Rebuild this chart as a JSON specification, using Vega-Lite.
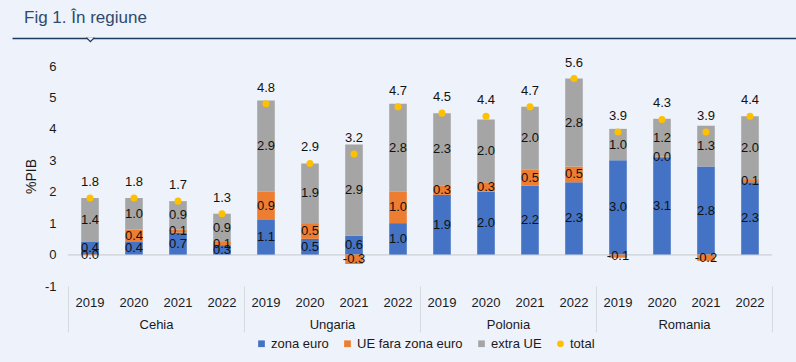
{
  "$schema": "https://vega.github.io/schema/vega-lite/v6.json",
  "width": 704,
  "height": 220,
  "autosize": {"type": "none"},
  "padding": {"left": 68, "top": 66, "right": 24, "bottom": 76},
  "background": "#EEF2FA",
  "config": {
    "font": "Liberation Sans",
    "view": {"stroke": null},
    "axis": {"grid": false},
    "axisY": {"labelOverlap": false}
  },
  "title": {
    "text": "Fig 1. În regiune",
    "anchor": "start",
    "frame": "group",
    "dx": -44,
    "fontSize": 17,
    "fontWeight": "normal",
    "color": "#2F4A6E",
    "offset": 8
  },
  "datasets": {
    "d": [
      {"key": "Cehia|2019", "series": "zona euro", "value": 0.4},
      {"key": "Cehia|2019", "series": "UE fara zona euro", "value": -0.02},
      {"key": "Cehia|2019", "series": "extra UE", "value": 1.4},
      {"key": "Cehia|2019", "series": "total", "value": 1.8},
      {"key": "Cehia|2020", "series": "zona euro", "value": 0.4},
      {"key": "Cehia|2020", "series": "UE fara zona euro", "value": 0.4},
      {"key": "Cehia|2020", "series": "extra UE", "value": 1.0},
      {"key": "Cehia|2020", "series": "total", "value": 1.8},
      {"key": "Cehia|2021", "series": "zona euro", "value": 0.7},
      {"key": "Cehia|2021", "series": "UE fara zona euro", "value": 0.1},
      {"key": "Cehia|2021", "series": "extra UE", "value": 0.9},
      {"key": "Cehia|2021", "series": "total", "value": 1.7},
      {"key": "Cehia|2022", "series": "zona euro", "value": 0.3},
      {"key": "Cehia|2022", "series": "UE fara zona euro", "value": 0.1},
      {"key": "Cehia|2022", "series": "extra UE", "value": 0.9},
      {"key": "Cehia|2022", "series": "total", "value": 1.3},
      {"key": "Ungaria|2019", "series": "zona euro", "value": 1.1},
      {"key": "Ungaria|2019", "series": "UE fara zona euro", "value": 0.9},
      {"key": "Ungaria|2019", "series": "extra UE", "value": 2.9},
      {"key": "Ungaria|2019", "series": "total", "value": 4.8},
      {"key": "Ungaria|2020", "series": "zona euro", "value": 0.5},
      {"key": "Ungaria|2020", "series": "UE fara zona euro", "value": 0.5},
      {"key": "Ungaria|2020", "series": "extra UE", "value": 1.9},
      {"key": "Ungaria|2020", "series": "total", "value": 2.9},
      {"key": "Ungaria|2021", "series": "zona euro", "value": 0.6},
      {"key": "Ungaria|2021", "series": "UE fara zona euro", "value": -0.3},
      {"key": "Ungaria|2021", "series": "extra UE", "value": 2.9},
      {"key": "Ungaria|2021", "series": "total", "value": 3.2},
      {"key": "Ungaria|2022", "series": "zona euro", "value": 1.0},
      {"key": "Ungaria|2022", "series": "UE fara zona euro", "value": 1.0},
      {"key": "Ungaria|2022", "series": "extra UE", "value": 2.8},
      {"key": "Ungaria|2022", "series": "total", "value": 4.7},
      {"key": "Polonia|2019", "series": "zona euro", "value": 1.9},
      {"key": "Polonia|2019", "series": "UE fara zona euro", "value": 0.3},
      {"key": "Polonia|2019", "series": "extra UE", "value": 2.3},
      {"key": "Polonia|2019", "series": "total", "value": 4.5},
      {"key": "Polonia|2020", "series": "zona euro", "value": 2.0},
      {"key": "Polonia|2020", "series": "UE fara zona euro", "value": 0.3},
      {"key": "Polonia|2020", "series": "extra UE", "value": 2.0},
      {"key": "Polonia|2020", "series": "total", "value": 4.4},
      {"key": "Polonia|2021", "series": "zona euro", "value": 2.2},
      {"key": "Polonia|2021", "series": "UE fara zona euro", "value": 0.5},
      {"key": "Polonia|2021", "series": "extra UE", "value": 2.0},
      {"key": "Polonia|2021", "series": "total", "value": 4.7},
      {"key": "Polonia|2022", "series": "zona euro", "value": 2.3},
      {"key": "Polonia|2022", "series": "UE fara zona euro", "value": 0.5},
      {"key": "Polonia|2022", "series": "extra UE", "value": 2.8},
      {"key": "Polonia|2022", "series": "total", "value": 5.6},
      {"key": "Romania|2019", "series": "zona euro", "value": 3.0},
      {"key": "Romania|2019", "series": "UE fara zona euro", "value": -0.1},
      {"key": "Romania|2019", "series": "extra UE", "value": 1.0},
      {"key": "Romania|2019", "series": "total", "value": 3.9},
      {"key": "Romania|2020", "series": "zona euro", "value": 3.1},
      {"key": "Romania|2020", "series": "UE fara zona euro", "value": 0.02},
      {"key": "Romania|2020", "series": "extra UE", "value": 1.2},
      {"key": "Romania|2020", "series": "total", "value": 4.3},
      {"key": "Romania|2021", "series": "zona euro", "value": 2.8},
      {"key": "Romania|2021", "series": "UE fara zona euro", "value": -0.2},
      {"key": "Romania|2021", "series": "extra UE", "value": 1.3},
      {"key": "Romania|2021", "series": "total", "value": 3.9},
      {"key": "Romania|2022", "series": "zona euro", "value": 2.3},
      {"key": "Romania|2022", "series": "UE fara zona euro", "value": 0.1},
      {"key": "Romania|2022", "series": "extra UE", "value": 2.0},
      {"key": "Romania|2022", "series": "total", "value": 4.4}
    ],
    "countries": [
      {"country": "Cehia"},
      {"country": "Ungaria"},
      {"country": "Polonia"},
      {"country": "Romania"}
    ],
    "notch": [{"pos": 0.1}]
  },
  "layer": [
    {
      "data": {"name": "d"},
      "transform": [
        {"calculate": "indexof(['zona euro','UE fara zona euro','extra UE','total'], datum.series)", "as": "ord"},
        {"calculate": "replace(format(datum.value,'.1f'),'−','-')", "as": "lbl"}
      ],
      "encoding": {
        "x": {
          "field": "key",
          "type": "nominal",
          "sort": null,
          "scale": {"paddingInner": 0.6, "paddingOuter": 0.3},
          "axis": {
            "orient": "bottom",
            "title": null,
            "labelExpr": "split(datum.label,'|')[1]",
            "labelAngle": 0,
            "ticks": false,
            "domain": false,
            "labelPadding": 10,
            "labelFontSize": 13,
            "labelColor": "#1a1a1a"
          }
        },
        "y": {
          "field": "value",
          "type": "quantitative",
          "scale": {"domain": [-1, 6], "nice": false},
          "axis": {
            "title": "%PIB",
            "tickCount": 8,
            "values": [-1, 0, 1, 2, 3, 4, 5, 6],
            "format": "d",
            "labelExpr": "replace(datum.label,'−','-')",
            "labelOverlap": false,
            "domain": false,
            "ticks": false,
            "labelPadding": 12,
            "labelFontSize": 13,
            "labelColor": "#1a1a1a",
            "titleFontSize": 14,
            "titleFontWeight": "normal",
            "titleColor": "#1a1a1a",
            "titlePadding": 6
          }
        }
      },
      "layer": [
        {
          "mark": {"type": "rule", "color": "#D6D9DE", "strokeWidth": 1},
          "encoding": {"x": null, "y": {"datum": 0, "type": "quantitative"}}
        },
        {
          "transform": [{"filter": "datum.series !== 'total'"}],
          "mark": {"type": "bar"},
          "encoding": {
            "y": {"field": "value", "type": "quantitative", "stack": "zero"},
            "color": {
              "field": "series",
              "type": "nominal",
              "scale": {
                "domain": ["zona euro", "UE fara zona euro", "extra UE", "total"],
                "range": ["#4472C4", "#ED7D31", "#A5A5A5", "#FFC000"]
              },
              "legend": {
                "orient": "none",
                "legendX": 187,
                "legendY": 271,
                "direction": "horizontal",
                "title": null,
                "labelFontSize": 13,
                "labelColor": "#1a1a1a",
                "symbolSize": 45,
                "symbolStrokeWidth": 0,
                "columnPadding": 12,
                "labelOffset": 3,
                "encode": {
                  "symbols": {
                    "update": {
                      "shape": {"signal": "datum.value === 'total' ? 'circle' : 'square'"}
                    }
                  }
                }
              }
            },
            "order": {"field": "ord", "type": "quantitative"}
          }
        },
        {
          "transform": [{"filter": "datum.series !== 'total'"}],
          "mark": {"type": "text", "fontSize": 13, "color": "#111111", "baseline": "middle"},
          "encoding": {
            "y": {"field": "value", "type": "quantitative", "stack": "zero", "bandPosition": 0.5},
            "detail": {"field": "series", "type": "nominal"},
            "order": {"field": "ord", "type": "quantitative"},
            "text": {"field": "lbl", "type": "nominal"}
          }
        },
        {
          "transform": [{"filter": "datum.series === 'total'"}],
          "mark": {"type": "circle", "size": 50, "opacity": 1},
          "encoding": {
            "color": {"field": "series", "type": "nominal"}
          }
        },
        {
          "transform": [{"filter": "datum.series === 'total'"}],
          "mark": {"type": "text", "fontSize": 13, "color": "#111111", "baseline": "middle", "dy": -16},
          "encoding": {
            "text": {"field": "lbl", "type": "nominal"}
          }
        }
      ]
    },
    {
      "data": {"name": "countries"},
      "mark": {"type": "rule", "strokeOpacity": 0},
      "encoding": {
        "x": {
          "field": "country",
          "type": "nominal",
          "sort": ["Cehia", "Ungaria", "Polonia", "Romania"],
          "scale": {"paddingInner": 0, "paddingOuter": 0},
          "axis": {
            "orient": "bottom",
            "title": null,
            "labelAngle": 0,
            "domain": false,
            "tickBand": "extent",
            "tickSize": 46,
            "tickColor": "#D6D9DE",
            "labelPadding": -14,
            "labelFontSize": 13,
            "labelColor": "#1a1a1a"
          }
        }
      }
    },
    {
      "data": {"name": "notch"},
      "mark": {
        "type": "point",
        "shape": "M-1,-0.1L0,0.9L1,-0.1",
        "size": 64,
        "filled": true,
        "fill": "#EEF2FA",
        "stroke": "#1F3A5F",
        "strokeWidth": 1.3,
        "opacity": 1
      },
      "encoding": {
        "x": {
          "field": "pos",
          "type": "quantitative",
          "scale": {"domain": [0, 1], "range": [-56, 728]},
          "axis": {
            "orient": "top",
            "offset": 28,
            "title": null,
            "labels": false,
            "ticks": false,
            "grid": false,
            "domainColor": "#1F3A5F",
            "domainWidth": 1.4
          }
        },
        "y": {"datum": 6.89, "type": "quantitative"}
      }
    }
  ],
  "resolve": {"scale": {"x": "independent"}, "axis": {"x": "independent"}}
}
